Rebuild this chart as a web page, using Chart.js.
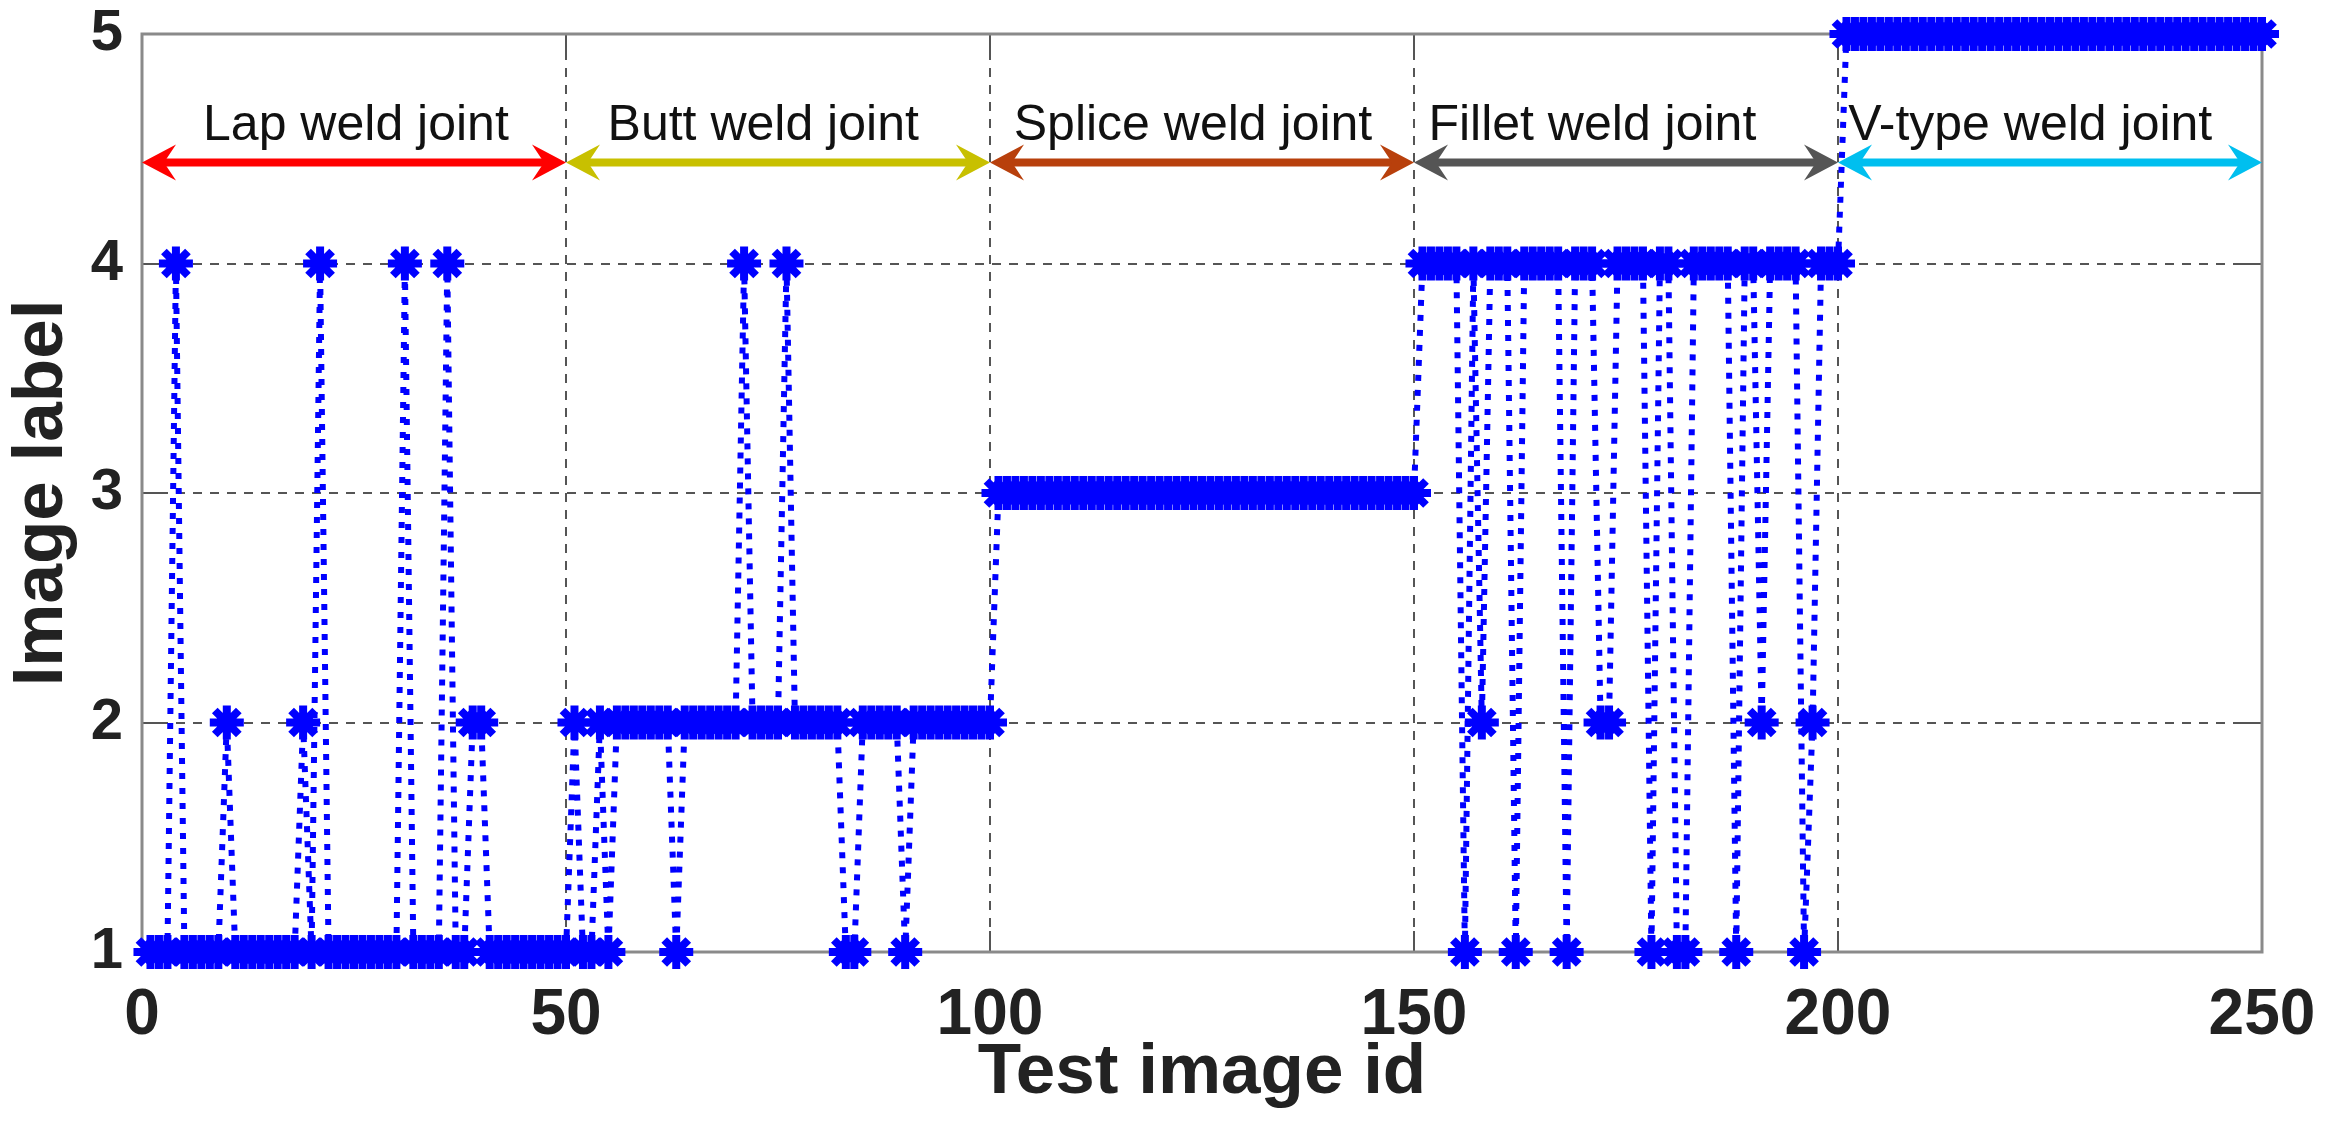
<!DOCTYPE html>
<html>
<head>
<meta charset="utf-8">
<title>Test image labels</title>
<script src="https://cdn.jsdelivr.net/npm/chart.js@4.4.1/dist/chart.umd.min.js"></script>
<style>
  html, body { margin: 0; padding: 0; background: #fff; }
  canvas { display: block; }
</style>
</head>
<body>
<canvas id="chart" width="2326" height="1124"></canvas>
<script>
const FONT = '"Liberation Sans", Arial, sans-serif';

// label given to each test image, ids 1..250
const imageLabels = [
  1,1,1,4,1,1,1,1,1,2, 1,1,1,1,1,1,1,1,2,1, 4,1,1,1,1,1,1,1,1,1, 4,1,1,1,1,4,1,1,2,2, 1,1,1,1,1,1,1,1,1,1,
  2,1,1,2,1,2,2,2,2,2, 2,2,1,2,2,2,2,2,2,2, 4,2,2,2,2,4,2,2,2,2, 2,2,1,1,2,2,2,2,2,1, 2,2,2,2,2,2,2,2,2,2,
  3,3,3,3,3,3,3,3,3,3, 3,3,3,3,3,3,3,3,3,3, 3,3,3,3,3,3,3,3,3,3, 3,3,3,3,3,3,3,3,3,3, 3,3,3,3,3,3,3,3,3,3,
  4,4,4,4,4,1,4,2,4,4, 4,1,4,4,4,4,4,1,4,4, 4,2,2,4,4,4,4,1,4,4, 1,1,4,4,4,4,4,1,4,4, 2,4,4,4,4,1,2,4,4,4,
  5,5,5,5,5,5,5,5,5,5, 5,5,5,5,5,5,5,5,5,5, 5,5,5,5,5,5,5,5,5,5, 5,5,5,5,5,5,5,5,5,5, 5,5,5,5,5,5,5,5,5,5
];

const xTicks = [0, 50, 100, 150, 200, 250];
const yTicks = [1, 2, 3, 4, 5];

// joint groups marked along the top of the plot
const jointNames = ["Lap weld joint", "Butt weld joint", "Splice weld joint", "Fillet weld joint", "V-type weld joint"];
const jointStart = [0, 50, 100, 150, 200];
const jointEnd = [50, 100, 150, 200, 250];

// annotation placement (data units) and colours
const jointTextX = [7.2, 54.9, 102.8, 151.7, 201.2];
const ARROW_Y = 4.44;
const TEXT_Y = 4.54;
const JOINT_COLORS = ["#ff0000", "#c8c000", "#b8400c", "#555555", "#00bfef"];

function arrowHead(ctx, tx, ty, dir) {
  ctx.beginPath();
  ctx.moveTo(tx, ty);
  ctx.lineTo(tx - dir * 34, ty - 18);
  ctx.lineTo(tx - dir * 22, ty);
  ctx.lineTo(tx - dir * 34, ty + 18);
  ctx.closePath();
  ctx.fill();
}

const frame = {
  id: "frame",
  beforeDatasetsDraw(chart) {
    const { ctx, chartArea: a, scales: { x, y } } = chart;
    const xs = x.ticks.map(t => Math.round(x.getPixelForValue(t.value)));
    const ys = y.ticks.map(t => Math.round(y.getPixelForValue(t.value)));
    ctx.save();

    // dashed grid
    ctx.strokeStyle = "#555";
    ctx.lineWidth = 2;
    ctx.setLineDash([9, 8]);
    ctx.beginPath();
    xs.slice(1, -1).forEach(px => { ctx.moveTo(px, a.top); ctx.lineTo(px, a.bottom); });
    ys.slice(1, -1).forEach(py => { ctx.moveTo(a.left, py); ctx.lineTo(a.right, py); });
    ctx.stroke();
    ctx.setLineDash([]);

    // tick marks pointing inside
    const TL = 21;
    ctx.beginPath();
    xs.forEach(px => {
      ctx.moveTo(px, a.bottom); ctx.lineTo(px, a.bottom - TL);
      ctx.moveTo(px, a.top); ctx.lineTo(px, a.top + TL);
    });
    ys.forEach(py => {
      ctx.moveTo(a.left, py); ctx.lineTo(a.left + TL, py);
      ctx.moveTo(a.right, py); ctx.lineTo(a.right - TL, py);
    });
    ctx.stroke();

    // box
    ctx.strokeStyle = "#8a8a8a";
    ctx.lineWidth = 3;
    ctx.strokeRect(a.left, a.top, a.right - a.left, a.bottom - a.top);

    // joint arrows and names
    const ay = y.getPixelForValue(ARROW_Y);
    const ty = y.getPixelForValue(TEXT_Y);
    jointStart.forEach((s, i) => {
      const x1 = x.getPixelForValue(s);
      const x2 = x.getPixelForValue(jointEnd[i]);
      ctx.strokeStyle = ctx.fillStyle = JOINT_COLORS[i];
      ctx.lineWidth = 8;
      ctx.beginPath();
      ctx.moveTo(x1 + 20, ay);
      ctx.lineTo(x2 - 20, ay);
      ctx.stroke();
      arrowHead(ctx, x1, ay, -1);
      arrowHead(ctx, x2, ay, 1);

      ctx.fillStyle = "#111";
      ctx.font = `50px ${FONT}`;
      ctx.textAlign = "left";
      ctx.textBaseline = "alphabetic";
      ctx.fillText(jointNames[i], x.getPixelForValue(jointTextX[i]), ty);
    });
    ctx.restore();
  }
};

function noPad(s) {
  s.paddingTop = s.paddingBottom = s.paddingLeft = s.paddingRight = 0;
}

new Chart(document.getElementById("chart"), {
  type: "line",
  data: {
    datasets: [{
      data: imageLabels.map((v, i) => ({ x: i + 1, y: v })),
      borderColor: "#0000ff",
      borderWidth: 6,
      borderDash: [6, 9],
      pointStyle: "star",
      pointRadius: 17,
      pointBorderWidth: 8,
      pointBorderColor: "#0000ff",
      pointBackgroundColor: "#0000ff",
      tension: 0,
      clip: false
    }]
  },
  options: {
    responsive: false,
    animation: false,
    devicePixelRatio: 1,
    events: [],
    layout: { padding: { top: 34, right: 64, left: 0, bottom: 0 } },
    plugins: { legend: { display: false }, tooltip: { enabled: false } },
    scales: {
      x: {
        type: "linear",
        min: 0,
        max: 250,
        afterBuildTicks: s => { s.ticks = xTicks.map(v => ({ value: v })); },
        ticks: {
          padding: 26,
          maxRotation: 0,
          color: "#222",
          font: { family: FONT, weight: "bold", size: 64 }
        },
        grid: { display: false, drawTicks: false },
        border: { display: false },
        title: {
          display: true,
          text: "Test image id",
          color: "#222",
          font: { family: FONT, weight: "bold", size: 71 },
          padding: { top: 0, bottom: 8 }
        },
        afterFit: s => { s.height = 172; noPad(s); }
      },
      y: {
        type: "linear",
        min: 1,
        max: 5,
        afterBuildTicks: s => { s.ticks = yTicks.map(v => ({ value: v })); },
        ticks: {
          padding: 19,
          color: "#222",
          font: { family: FONT, weight: "bold", size: 58 }
        },
        grid: { display: false, drawTicks: false },
        border: { display: false },
        title: {
          display: true,
          text: "Image label",
          color: "#222",
          font: { family: FONT, weight: "bold", size: 71 },
          padding: { top: 0, bottom: 0 }
        },
        afterFit: s => { s.width = 142; noPad(s); }
      }
    }
  },
  plugins: [frame]
});
</script>
</body>
</html>
